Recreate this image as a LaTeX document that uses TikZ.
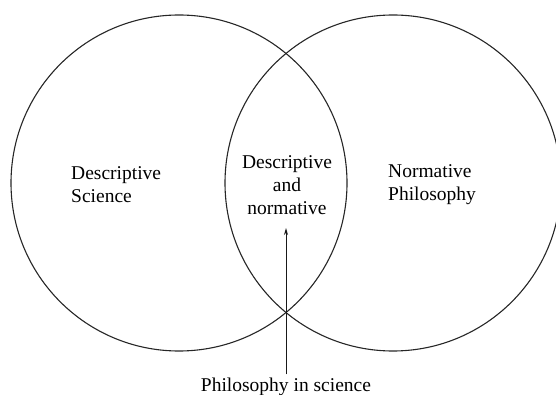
\documentclass[tikz,border=0pt]{standalone}
\usepackage{fontspec}
\setmainfont{Liberation Serif}
\usetikzlibrary{arrows.meta}
\begin{document}
\begin{tikzpicture}[x=1pt,y=-1pt,
  ring/.style={draw=black!85,line width=1.1pt,circle,minimum size=336pt,inner sep=0pt},
  lbl/.style={font=\fontsize{19.5}{23}\selectfont,inner sep=0pt},
  conn/.style={draw=black!90,line width=1pt,-{Stealth[length=7pt,width=4pt]}}]
\useasboundingbox (0,0) rectangle (556,395);
\node[ring] (L) at (179,183) {};
\node[ring] (R) at (393,183) {};
\node[lbl,align=left,anchor=west] (ds) at (71,185) {Descriptive\\Science};
\node[lbl,align=center] (dn) at (287,185) {Descriptive\\and\\normative};
\node[lbl,align=left,anchor=west] (np) at (388,185) {Normative\\Philosophy};
\node[lbl,anchor=base] (ps) at (286,391) {Philosophy in science};
\coordinate (tip) at (286,228);
\draw[conn] (ps.north -| tip) ++(0,-3) -- (tip);
\end{tikzpicture}
\end{document}
